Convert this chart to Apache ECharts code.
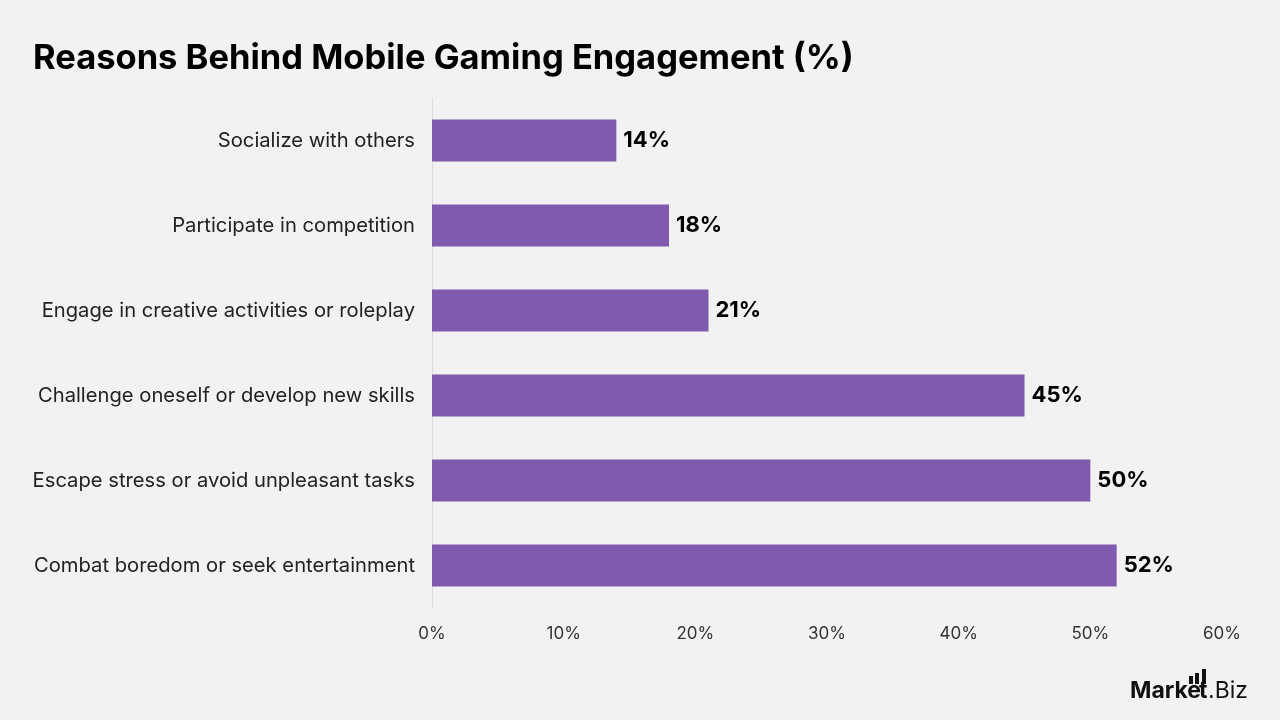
<!DOCTYPE html>
<html>
<head>
<meta charset="utf-8">
<script src="https://cdn.jsdelivr.net/npm/echarts@6/dist/echarts.min.js"></script>
<style>
  html, body { margin: 0; padding: 0; background: #f2f2f2; }
  #chart { width: 1280px; height: 720px; }
</style>
</head>
<body>
<div id="chart"></div>
<script>
// data (category axis runs bottom to top)
var categories = [
  'Combat boredom or seek entertainment',
  'Escape stress or avoid unpleasant tasks',
  'Challenge oneself or develop new skills',
  'Engage in creative activities or roleplay',
  'Participate in competition',
  'Socialize with others'
];
var values = [52, 50, 45, 21, 18, 14];
var xTicks = [0, 10, 20, 30, 40, 50, 60];

var font = 'Inter, "Open Sans", sans-serif';
var chart = echarts.init(document.getElementById('chart'));

var option = {
  backgroundColor: '#f2f2f2',
  animation: false,
  title: {
    text: 'Reasons Behind Mobile Gaming Engagement (%)',
    left: 33,
    top: 41,
    padding: 0,
    textStyle: {
      color: '#000',
      fontSize: 34.5,
      fontWeight: 'bold',
      fontFamily: font
    }
  },
  grid: {
    left: 432,
    right: 58,
    top: 98,
    bottom: 112
  },
  xAxis: {
    type: 'value',
    min: xTicks[0],
    max: xTicks[xTicks.length - 1],
    interval: 10,
    axisLine: { show: false },
    axisTick: { show: false },
    splitLine: { show: false },
    axisLabel: {
      formatter: '{value}%',
      color: '#333',
      fontSize: 17,
      fontFamily: font,
      margin: 17
    }
  },
  yAxis: {
    type: 'category',
    data: categories,
    axisLine: { show: true, lineStyle: { color: '#dcdcdc', width: 1 } },
    axisTick: { show: false },
    axisLabel: {
      color: '#222',
      fontSize: 20.2,
      fontFamily: font,
      margin: 17
    }
  },
  series: [
    {
      type: 'bar',
      data: values,
      barWidth: 42,
      itemStyle: { color: '#805aae' },
      label: {
        show: true,
        position: 'right',
        distance: 7,
        formatter: '{c}%',
        color: '#000',
        fontSize: 22,
        fontWeight: 'bold',
        fontFamily: font
      }
    }
  ],
  graphic: [
    { type: 'text', left: 1130, top: 680, style: { text: 'Marke', fill: '#111', font: 'bold 23px ' + font } },
    { type: 'rect', left: 1189, top: 676, shape: { width: 4, height: 8 }, style: { fill: '#111' } },
    { type: 'rect', left: 1195, top: 673, shape: { width: 4, height: 11 }, style: { fill: '#111' } },
    { type: 'text', left: 1199, top: 680, style: { text: 't', fill: '#111', font: 'bold 23px ' + font } },
    { type: 'rect', left: 1202, top: 669, shape: { width: 4, height: 15 }, style: { fill: '#111' } },
    { type: 'text', left: 1208, top: 680, style: { text: '.Biz', fill: '#111', font: '23px ' + font } }
  ]
};

chart.setOption(option);
</script>
</body>
</html>
